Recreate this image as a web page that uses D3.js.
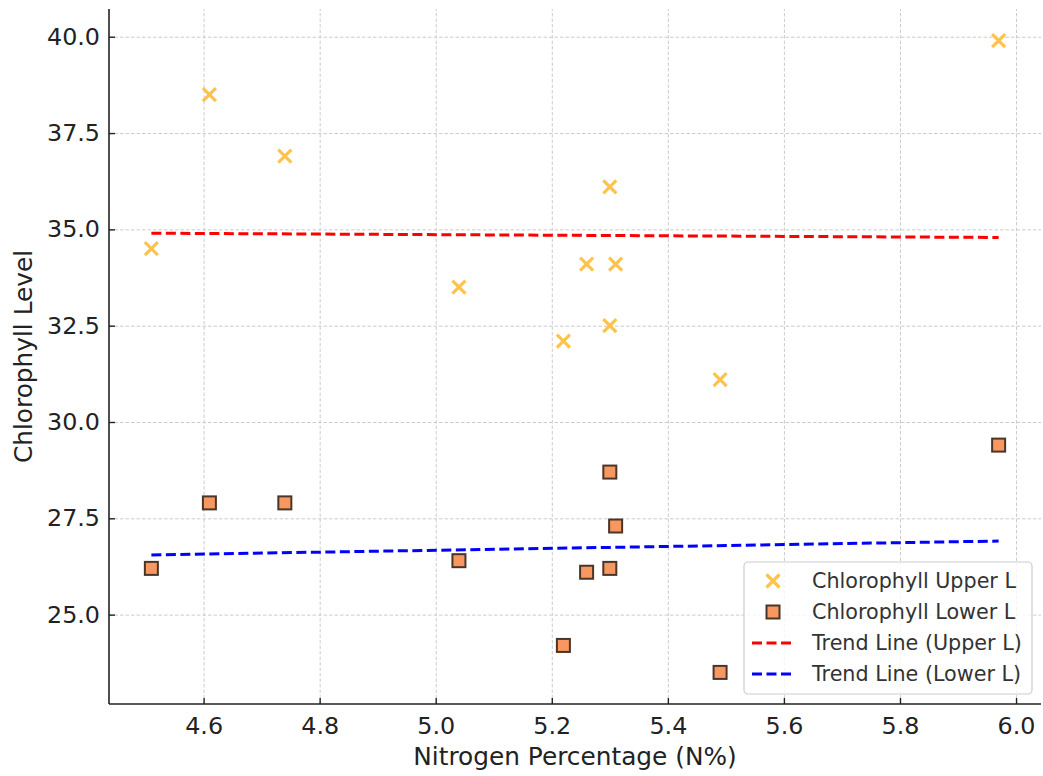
<!DOCTYPE html>
<html>
<head>
<meta charset="utf-8">
<script src="https://cdn.jsdelivr.net/npm/d3@7"></script>
<style>
body { margin: 0; background: #fff; }
svg { font-family: "DejaVu Sans", sans-serif; }
.grid line { stroke: #cccccc; stroke-width: 1; stroke-dasharray: 3.5,2; }
.grid path { display: none; }
</style>
</head>
<body>
<svg width="1043" height="776"></svg>
<script>
// nitrogen percentage of each sample
var nitrogen = [4.51, 4.61, 4.74, 5.04, 5.22, 5.26, 5.30, 5.31, 5.30, 5.49, 5.97];
var upperL = [34.5, 38.5, 36.9, 33.5, 32.1, 34.1, 36.1, 34.1, 32.5, 31.1, 39.9];
var lowerL = [26.2, 27.9, 27.9, 26.4, 24.2, 26.1, 28.7, 27.3, 26.2, 23.5, 29.4];
// trend line end points (at min and max nitrogen)
var trendUpper = [34.90, 34.79];
var trendLower = [26.55, 26.91];
var xTicks = [4.6, 4.8, 5.0, 5.2, 5.4, 5.6, 5.8, 6.0];
var yTicks = [25.0, 27.5, 30.0, 32.5, 35.0, 37.5, 40.0];
var legendLabels = ["Chlorophyll Upper L", "Chlorophyll Lower L", "Trend Line (Upper L)", "Trend Line (Lower L)"];

var svg = d3.select("svg");
var pLeft = 109, pTop = 9, pRight = 1041, pBottom = 704;

var xMin = d3.min(nitrogen), xMax = d3.max(nitrogen);
var xPad = (xMax - xMin) * 0.05;
var allY = upperL.concat(lowerL);
var yMin = d3.min(allY), yMax = d3.max(allY);
var yPad = (yMax - yMin) * 0.05;

var x = d3.scaleLinear().domain([xMin - xPad, xMax + xPad]).range([pLeft, pRight]);
var y = d3.scaleLinear().domain([yMin - yPad, yMax + yPad]).range([pBottom, pTop]);

// grid
svg.append("g")
.attr("class", "grid")
.attr("transform", "translate(0," + pBottom + ")")
.call(d3.axisBottom(x).tickValues(xTicks).tickSize(-(pBottom - pTop)).tickFormat(""));

svg.append("g")
.attr("class", "grid")
.attr("transform", "translate(" + pLeft + ",0)")
.call(d3.axisLeft(y).tickValues(yTicks).tickSize(-(pRight - pLeft)).tickFormat(""));

var data = nitrogen.map(function(n, i) { return {n: n, up: upperL[i], low: lowerL[i]}; });

var cross = "M-6.5,-6.5L6.5,6.5M-6.5,6.5L6.5,-6.5";

// scatter: upper (x markers)
svg.append("g").selectAll("path")
.data(data)
.enter()
.append("path")
.attr("transform", function(d) { return "translate(" + x(d.n) + "," + y(d.up) + ")"; })
.attr("d", cross)
.attr("stroke", "#ffc34d")
.attr("stroke-width", 3.2)
.attr("fill", "none");

// scatter: lower (squares)
svg.append("g").selectAll("rect")
.data(data)
.enter()
.append("rect")
.attr("x", function(d) { return x(d.n) - 6.5; })
.attr("y", function(d) { return y(d.low) - 6.5; })
.attr("width", 13)
.attr("height", 13)
.attr("fill", "#f8975f")
.attr("stroke", "#4a3529")
.attr("stroke-width", 2);

// trend lines
var line = d3.line().x(function(d) { return x(d[0]); }).y(function(d) { return y(d[1]); });
svg.append("path")
.attr("d", line([[xMin, trendUpper[0]], [xMax, trendUpper[1]]]))
.attr("stroke", "#ff0000").attr("stroke-width", 3).attr("fill", "none")
.attr("stroke-dasharray", "10,4.5");
svg.append("path")
.attr("d", line([[xMin, trendLower[0]], [xMax, trendLower[1]]]))
.attr("stroke", "#0000ff").attr("stroke-width", 3).attr("fill", "none")
.attr("stroke-dasharray", "10,4.5");

// axes
var xAxis = svg.append("g")
.attr("transform", "translate(0," + pBottom + ")")
.call(d3.axisBottom(x).tickValues(xTicks).tickSize(-6).tickPadding(13).tickFormat(d3.format(".1f")));
var yAxis = svg.append("g")
.attr("transform", "translate(" + pLeft + ",0)")
.call(d3.axisLeft(y).tickValues(yTicks).tickSize(-6).tickPadding(9).tickFormat(d3.format(".1f")));

[xAxis, yAxis].forEach(function(a) {
  a.select(".domain").attr("stroke", "#222").attr("stroke-width", 1.6);
  a.selectAll(".tick line").attr("stroke", "#222").attr("stroke-width", 1.4);
  a.selectAll(".tick text").attr("fill", "#222").style("font-size", "23.8px").style("font-family", "DejaVu Sans");
});
xAxis.selectAll(".tick text").attr("dy", "0.71em");
// only left and bottom spines
xAxis.select(".domain").attr("d", "M" + pLeft + ",0H" + pRight);
yAxis.select(".domain").attr("d", "M0," + pTop + "V" + pBottom);

svg.append("text")
.attr("x", (pLeft + pRight) / 2)
.attr("y", 765)
.attr("text-anchor", "middle")
.attr("fill", "#222")
.style("font-size", "24.8px")
.text("Nitrogen Percentage (N%)");

svg.append("text")
.attr("transform", "translate(32," + ((pTop + pBottom) / 2) + ") rotate(-90)")
.attr("text-anchor", "middle")
.attr("fill", "#222")
.style("font-size", "24.8px")
.text("Chlorophyll Level");

// legend
var lg = svg.append("g");
lg.append("rect")
.attr("x", 744).attr("y", 562).attr("width", 288).attr("height", 132)
.attr("rx", 4).attr("fill", "#fff").attr("fill-opacity", 0.8)
.attr("stroke", "#cccccc").attr("stroke-width", 1.2);

var rowY = [581, 612, 643, 674];
legendLabels.forEach(function(t, i) {
  var cy = rowY[i];
  if (i === 0) {
    lg.append("path").attr("transform", "translate(773," + cy + ")")
    .attr("d", cross).attr("stroke", "#ffc34d").attr("stroke-width", 3.2);
  } else if (i === 1) {
    lg.append("rect").attr("x", 766.5).attr("y", cy - 6.5).attr("width", 13).attr("height", 13)
    .attr("fill", "#f8975f").attr("stroke", "#4a3529").attr("stroke-width", 2);
  } else {
    lg.append("line").attr("x1", 752).attr("x2", 795).attr("y1", cy).attr("y2", cy)
    .attr("stroke", i === 2 ? "#ff0000" : "#0000ff").attr("stroke-width", 3)
    .attr("stroke-dasharray", "10,4.5");
  }
  lg.append("text").attr("x", 812).attr("y", cy).attr("dy", "0.35em")
  .attr("fill", "#333").style("font-size", "20.7px").text(t);
});
</script>
</body>
</html>
